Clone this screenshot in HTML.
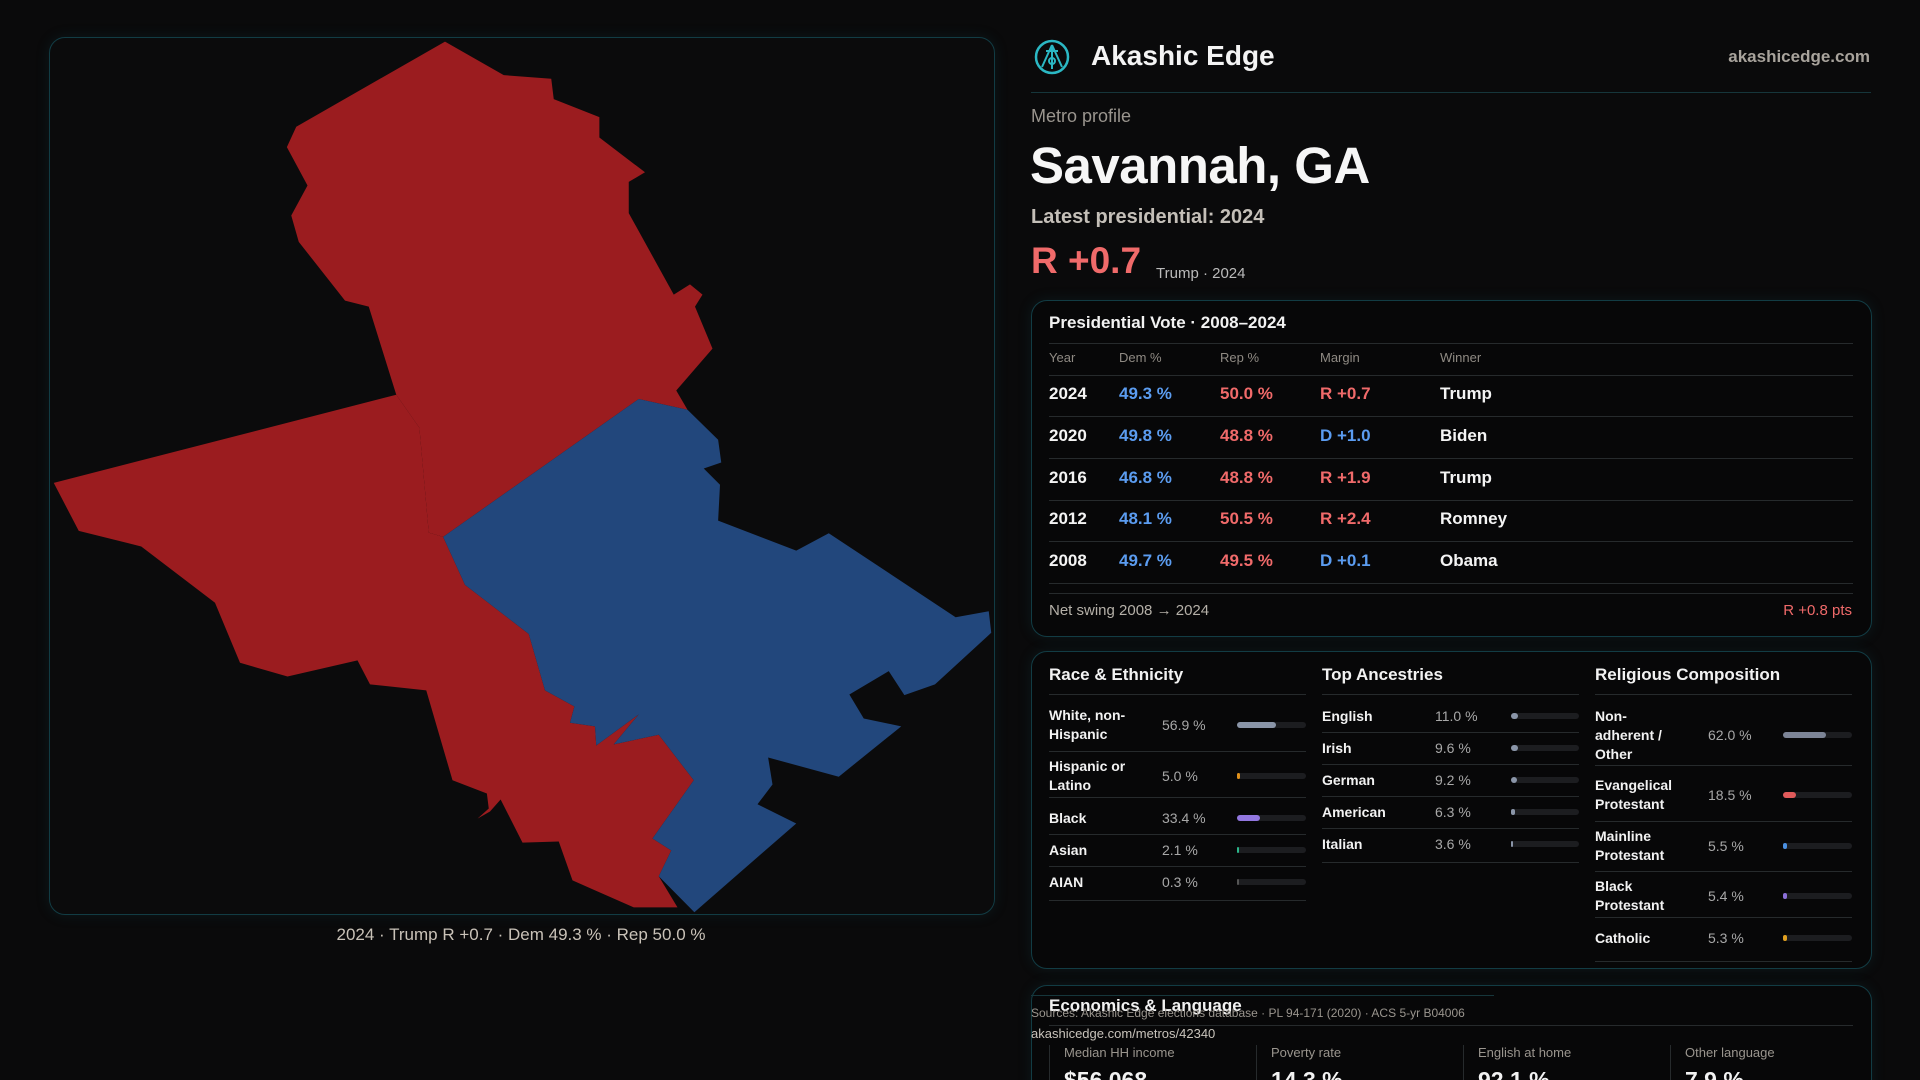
<!DOCTYPE html>
<html><head><meta charset="utf-8"><style>
*{margin:0;padding:0;box-sizing:border-box}
html,body{width:1920px;height:1080px;overflow:hidden;background:#0a0a0b}
body{position:relative;font-family:"Liberation Sans",sans-serif;color:#f2f2f2}
#root{position:absolute;left:0;top:0;width:1920px;height:1080px;overflow:hidden}
.a{position:absolute;white-space:nowrap}
.card{position:absolute;border:1px solid #123c44;border-radius:16px;background:#070708;box-shadow:0 0 14px rgba(20,90,100,.18)}
.hl{position:absolute;height:1px;background:#262a2c}
.bl{color:#5b9cf0}.rd{color:#f06a6a}
.trk{position:absolute;height:6px;border-radius:3px;background:#1c1d20}
.fil{position:absolute;left:0;top:0;height:6px;border-radius:3px}
</style></head><body><div id="root">
<div class="card" style="left:49px;top:37px;width:946px;height:878px;background:#0b0b0c"></div>
<svg class="a" style="left:0;top:0" width="1920" height="1080">
<g transform="translate(40,20) scale(0.625,0.5996)">
<polygon fill="#9b1c1f" points="648,36 742,92 818,98 822,132 895,162 895,196 968,254 942,270 942,322 1014,458 1040,441 1060,458 1048,478 1076,548 1018,618 1036,650 958,632 645,862 622,855 607,680 570,625 526,478 488,468 414,370 402,326 428,276 395,212 410,178"/>
<polygon fill="#9b1c1f" points="22,772 570,625 607,680 622,855 645,862 680,942 782,1024 808,1118 855,1145 848,1172 888,1178 890,1210 958,1158 918,1208 990,1192 1046,1268 980,1365 1010,1385 990,1428 1020,1480 950,1480 852,1435 830,1370 772,1372 737,1300 720,1320 700,1332 718,1315 715,1290 660,1268 618,1118 528,1108 508,1068 396,1095 320,1072 280,972 162,878 62,852"/>
<polygon fill="#22477c" points="645,862 958,632 1036,650 1085,700 1090,738 1062,748 1088,775 1085,835 1210,885 1262,856 1465,996 1518,986 1522,1022 1432,1108 1383,1126 1358,1086 1295,1125 1318,1165 1378,1178 1278,1262 1165,1230 1172,1275 1148,1308 1210,1340 1047,1488 990,1428 1010,1385 980,1365 1046,1268 990,1192 918,1208 958,1158 890,1210 888,1178 848,1172 855,1145 808,1118 782,1024 680,942"/>
</g></svg>
<div class="a" style="left:521px;top:925px;transform:translateX(-50%);font-size:17px;color:#c9c2b8">2024 · Trump R +0.7 · Dem 49.3 % · Rep 50.0 %</div>

<svg class="a" style="left:1034px;top:39px" width="36" height="36" viewBox="0 0 36 36"><circle cx="18" cy="18" r="16" fill="none" stroke="#2bb8c4" stroke-width="2.5"/><path d="M18 6 L8 28 M18 6 L28 28 M18 8 V30 M12 12 H24" stroke="#2bb8c4" stroke-width="2" fill="none"/><circle cx="18" cy="22" r="3" fill="none" stroke="#2bb8c4" stroke-width="2"/></svg>
<div class="a" style="left:1091px;top:40px;font-size:28px;font-weight:bold;color:#f4f4f4">Akashic Edge</div>
<div class="a" style="right:50px;top:47px;font-size:17px;font-weight:bold;color:#a8a39c">akashicedge.com</div>
<div class="hl" style="left:1031px;top:92px;width:840px;background:#16363b"></div>
<div class="a" style="left:1031px;top:106px;font-size:18px;color:#9a958e">Metro profile</div>
<div class="a" style="left:1030px;top:136px;font-size:51px;font-weight:bold;color:#f6f6f6;letter-spacing:-0.5px">Savannah, GA</div>
<div class="a" style="left:1031px;top:206px;font-size:20px;font-weight:bold;color:#c4bfb8">Latest presidential: 2024</div>
<div class="a rd" style="left:1031px;top:240px;font-size:37px;font-weight:bold">R +0.7</div>
<div class="a" style="left:1156px;top:265px;font-size:15px;color:#bbb">Trump · 2024</div>

<div class="card" style="left:1031px;top:300px;width:841px;height:337px"></div>
<div class="a" style="left:1049px;top:313px;font-size:17px;font-weight:bold">Presidential Vote · 2008–2024</div>
<div class="hl" style="left:1049px;top:343px;width:804px"></div>
<div class="hl" style="left:1049px;top:593px;width:804px"></div>
<div class="a" style="left:1049px;top:602px;font-size:15px;color:#b5b0a8">Net swing 2008 → 2024</div>
<div class="a rd" style="right:68px;top:602px;font-size:15px">R +0.8 pts</div>

<div class="card" style="left:1031px;top:651px;width:841px;height:318px"></div>

<div class="card" style="left:1031px;top:985px;width:841px;height:140px"></div>
<div class="hl" style="left:1031px;top:995px;width:463px;background:#16363b"></div>
<div class="a" style="left:1049px;top:996px;font-size:17px;font-weight:bold">Economics &amp; Language</div>
<div class="hl" style="left:1049px;top:1025px;width:804px"></div>
<div class="a" style="left:1031px;top:1006px;font-size:12px;color:#9a958e">Sources: Akashic Edge elections database · PL 94-171 (2020) · ACS 5-yr B04006</div>
<div class="a" style="left:1031px;top:1026px;font-size:13px;color:#c8c3bb">akashicedge.com/metros/42340</div>
</div>
<script>
const years=["2024","2020","2016","2012","2008"];
const demPct=[49.3,49.8,46.8,48.1,49.7];
const repPct=[50.0,48.8,48.8,50.5,49.5];
const margins=["R +0.7","D +1.0","R +1.9","R +2.4","D +0.1"];
const winners=["Trump","Biden","Trump","Romney","Obama"];
const raceLabels=["White, non-Hispanic","Hispanic or Latino","Black","Asian","AIAN"];
const raceVals=[56.9,5.0,33.4,2.1,0.3];
const raceColors=["#8a95a8","#e0901a","#9277e0","#2bb58a","#555"];
const ancLabels=["English","Irish","German","American","Italian"];
const ancVals=[11.0,9.6,9.2,6.3,3.6];
const relLabels=["Non-adherent / Other","Evangelical Protestant","Mainline Protestant","Black Protestant","Catholic"];
const relVals=[62.0,18.5,5.5,5.4,5.3];
const relColors=["#7c8496","#e05a5a","#4a8fe0","#8b6fd8","#e0a020"];
const econLabels=["Median HH income","Poverty rate","English at home","Other language"];
const econVals=["$56,068","14.3 %","92.1 %","7.9 %"];

const B=document.getElementById('root');
function mk(txt,l,t,css){const d=document.createElement('div');d.className='a';d.textContent=txt;d.style.cssText='left:'+l+'px;top:'+t+'px;'+(css||'');B.appendChild(d);return d;}
function line(l,t,w){const d=document.createElement('div');d.className='hl';d.style.cssText='left:'+l+'px;top:'+t+'px;width:'+w+'px';B.appendChild(d);return d;}
const cols=[1049,1119,1220,1320,1440];
["Year","Dem %","Rep %","Margin","Winner"].forEach((h,i)=>{const d=mk(h,cols[i],350,'font-size:13px;color:#8f8a83');

});
let s=line(1049,375,804);


years.forEach((y,i)=>{const top=384+i*41.8;const st='font-size:17px;font-weight:bold;';
const isR=margins[i].charAt(0)==='R';
const cells=[[y,'#f4f4f4'],[demPct[i].toFixed(1)+' %','#5b9cf0'],[repPct[i].toFixed(1)+' %','#f06a6a'],[margins[i],isR?'#f06a6a':'#5b9cf0'],[winners[i],'#f4f4f4']];
cells.forEach((c,j)=>{const d=mk(c[0],cols[j],top,st+'color:'+c[1]);

});
const l=line(1049,top+32,804);

});

function section(title,x,labels,vals,colors,rowTops,valX,barX,key,labelW){
const t=mk(title,x,665,'font-size:17px;font-weight:bold');


const l0=line(x,694,257);


labels.forEach((lab,i)=>{const c=rowTops[i];
const d=mk(lab,x,c,'font-size:14px;font-weight:bold;white-space:normal;width:'+labelW+'px;line-height:19px');


d.style.top=(c-d.offsetHeight/2)+'px';
const v=mk(vals[i].toFixed(1)+' %',valX,c-8,'font-size:14px;color:#a8a8a8');


const tr=document.createElement('div');tr.className='trk';tr.style.cssText='left:'+barX+'px;top:'+(c-3)+'px;width:'+(x+257-barX)+'px';


const f=document.createElement('div');f.className='fil';f.style.width=Math.max(2,(x+257-barX)*vals[i]/100)+'px';f.style.background=Array.isArray(colors)?colors[i]:colors;


tr.appendChild(f);B.appendChild(tr);
const nb=i<labels.length-1?(c+rowTops[i+1])/2:c+(c-rowTops[i-1])/2+2;
const l=line(x,Math.round(nb),257);

});}
section("Race & Ethnicity",1049,raceLabels,raceVals,raceColors,[725,776,818,850,882],1162,1237,'race',95);
section("Top Ancestries",1322,ancLabels,ancVals,"#8a95a8",[716,748,780,812,844],1435,1511,'ancestry',100);
section("Religious Composition",1595,relLabels,relVals,relColors,[735,795,846,896,938],1708,1783,'religion',88);

econLabels.forEach((lab,i)=>{const x=1064+i*207;
const sep=document.createElement('div');sep.className='a';sep.style.cssText='left:'+(x-15)+'px;top:1045px;width:1px;height:40px;background:#262a2c';B.appendChild(sep);


const d=mk(lab,x,1045,'font-size:13px;color:#9a958e');


const v=mk(econVals[i],x,1067,'font-size:23px;font-weight:bold');

});
</script>
</body></html>
